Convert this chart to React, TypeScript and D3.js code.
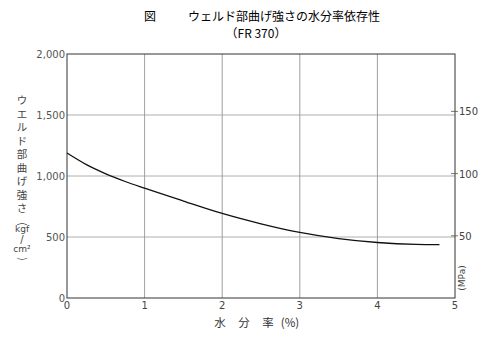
import React, { useEffect, useRef } from 'react';
import * as d3 from 'd3';

// moisture content (%) vs weld bending strength (kgf/cm2)
const moisture = [0, 0.25, 0.5, 0.75, 1, 1.5, 2, 2.5, 3, 3.5, 4, 4.5, 4.8];
const strength = [1188, 1093, 1018, 955, 900, 795, 693, 608, 537, 487, 455, 440, 438];
const xTicks = [0, 1, 2, 3, 4, 5];
const yTicks = [0, 500, 1000, 1500, 2000];
const mpaTicks = [50, 100, 150];
const yLabelChars = ['ウ', 'エ', 'ル', 'ド', '部', '曲', 'げ', '強', 'さ'];
const xLabelChars = ['水', '分', '率'];

const App = () => {
  const ref = useRef<SVGSVGElement>(null);

  useEffect(() => {
    const width = 500;
    const height = 352;
    const m = { left: 67, right: 45, top: 54, bottom: 54 };

    const svg = d3.select(ref.current);
    svg.selectAll('*').remove();

    const x = d3.scaleLinear().domain([0, 5]).range([m.left, width - m.right]);
    const y = d3.scaleLinear().domain([0, 2000]).range([height - m.bottom, m.top]);
    const yMpa = d3.scaleLinear().domain([0, 2000 * 0.0980665]).range([height - m.bottom, m.top]);

    const font = '"DejaVu Sans", sans-serif';
    const jp = '"Noto Sans CJK JP", sans-serif';

    // grid
    svg.append('g')
      .selectAll('line')
      .data(xTicks.slice(1, -1))
      .enter()
      .append('line')
      .attr('x1', d => x(d)).attr('x2', d => x(d))
      .attr('y1', y(0)).attr('y2', y(2000))
      .attr('stroke', '#888').attr('stroke-width', 0.8);

    svg.append('g')
      .selectAll('line')
      .data(yTicks.slice(1, -1))
      .enter()
      .append('line')
      .attr('x1', x(0)).attr('x2', x(5))
      .attr('y1', d => y(d)).attr('y2', d => y(d))
      .attr('stroke', '#999').attr('stroke-width', 0.8);

    // frame
    svg.append('rect')
      .attr('x', x(0)).attr('y', y(2000))
      .attr('width', x(5) - x(0)).attr('height', y(0) - y(2000))
      .attr('fill', 'none').attr('stroke', '#333').attr('stroke-width', 1);

    // right MPa ticks
    svg.append('g')
      .selectAll('line')
      .data(mpaTicks)
      .enter()
      .append('line')
      .attr('x1', x(5) - 4).attr('x2', x(5) + 3)
      .attr('y1', d => yMpa(d)).attr('y2', d => yMpa(d))
      .attr('stroke', '#555').attr('stroke-width', 0.8);

    svg.append('g')
      .selectAll('text')
      .data(mpaTicks)
      .enter()
      .append('text')
      .attr('x', x(5) + 4).attr('y', d => yMpa(d) + 4)
      .attr('font-family', font).attr('font-size', 10).attr('fill', '#444')
      .text(d => d);

    svg.append('text')
      .attr('transform', `translate(${x(5) + 10},${y(0) - 20}) rotate(-90)`)
      .attr('text-anchor', 'middle')
      .attr('font-family', font).attr('font-size', 9).attr('fill', '#444')
      .text('(MPa)');

    // left tick labels
    svg.append('g')
      .selectAll('text')
      .data(yTicks)
      .enter()
      .append('text')
      .attr('x', x(0) - 2).attr('y', d => y(d) + 4)
      .attr('text-anchor', 'end')
      .attr('font-family', font).attr('font-size', 10).attr('fill', '#555')
      .text(d => d3.format(',')(d));

    // x tick labels
    svg.append('g')
      .selectAll('text')
      .data(xTicks)
      .enter()
      .append('text')
      .attr('x', d => x(d)).attr('y', y(0) + 11)
      .attr('text-anchor', 'middle')
      .attr('font-family', font).attr('font-size', 10).attr('fill', '#444')
      .text(d => d);

    // curve
    const line = d3.line<number>()
      .x((d, i) => x(moisture[i]))
      .y(d => y(d))
      .curve(d3.curveMonotoneX);

    svg.append('path')
      .datum(strength)
      .attr('d', line)
      .attr('fill', 'none')
      .attr('stroke', '#111')
      .attr('stroke-width', 1.3);

    // titles
    const title = svg.append('g')
      .attr('font-family', jp).attr('font-size', 12).attr('fill', '#000')
      .attr('text-anchor', 'middle');
    title.append('text').attr('x', 150).attr('y', 21).text('図');
    title.append('text').attr('x', 284).attr('y', 21).text('ウェルド部曲げ強さの水分率依存性');
    title.append('text').attr('x', 256).attr('y', 38).text('（FR 370）');

    // x axis title
    const xl = svg.append('g')
      .attr('font-family', jp).attr('font-size', 11.5).attr('fill', '#333')
      .attr('text-anchor', 'middle');
    xLabelChars.forEach((c, i) => {
      xl.append('text').attr('x', 220 + i * 24).attr('y', 327).text(c);
    });
    xl.append('text').attr('x', 290).attr('y', 327).text('(%)');

    // y axis title (vertical)
    const yl = svg.append('g').attr('font-family', jp).attr('fill', '#444').attr('text-anchor', 'middle');
    yLabelChars.forEach((c, i) => {
      yl.append('text')
        .attr('x', 22).attr('y', 104 + i * 13.5)
        .attr('font-size', 10.5)
        .text(c);
    });
    yl.append('text').attr('transform', 'translate(22,224) rotate(90)').attr('font-size', 10).attr('dy', 3).text('(');
    yl.append('text').attr('x', 22).attr('y', 232).attr('font-size', 9).attr('font-family', font).text('kgf');
    yl.append('text').attr('x', 22).attr('y', 243).attr('font-size', 10).attr('font-family', font).text('/');
    yl.append('text').attr('x', 22).attr('y', 252).attr('font-size', 9).attr('font-family', font).text('cm²');
    yl.append('text').attr('transform', 'translate(22,259) rotate(90)').attr('font-size', 10).attr('dy', 3).text(')');

    return () => {
      d3.select(ref.current).selectAll('*').remove();
    };
  }, []);

  return (
    <svg ref={ref} width={500} height={352} style={{ position: 'absolute', left: 0, top: 0, background: '#fff' }} />
  );
};

export default App;
